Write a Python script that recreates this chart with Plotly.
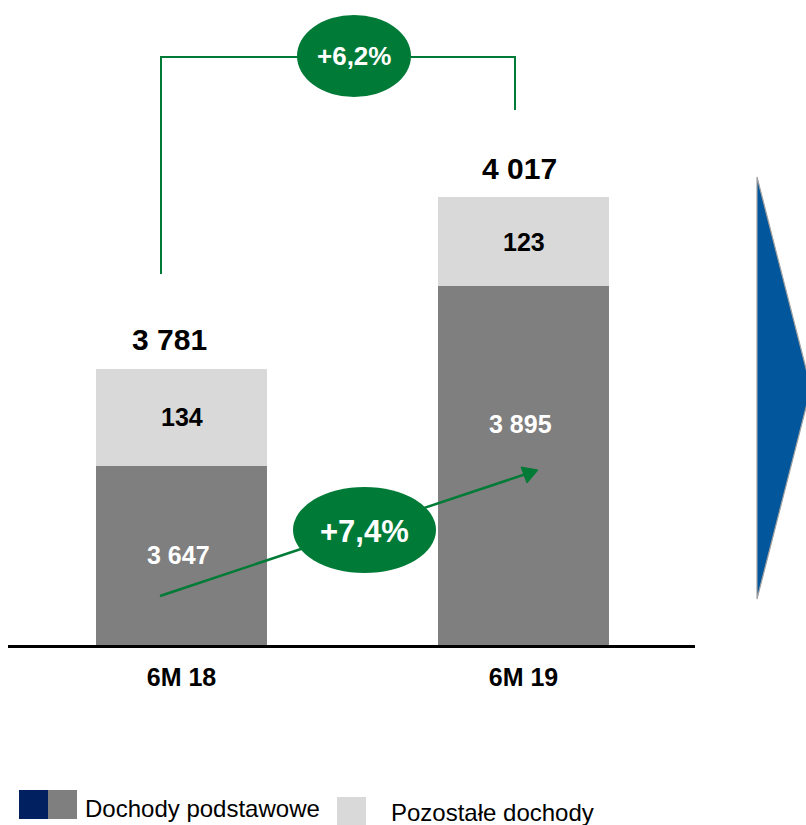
import plotly.graph_objects as go

# ---- data -------------------------------------------------------------
periods = ["6M 18", "6M 19"]
core_income = [3647, 3895]        # Dochody podstawowe
other_income = [134, 123]         # Pozostałe dochody
total_income = [3781, 4017]
growth_total = "+6,2%"
growth_core = "+7,4%"

# ---- styling ----------------------------------------------------------
W, H = 806, 825
FONT = "Liberation Sans, Arial, sans-serif"
DARK_GREY = "#7F7F7F"
LIGHT_GREY = "#D9D9D9"
NAVY = "#002060"
GREEN = "#007A37"
BLUE = "#02569B"

AXIS_FLOOR = 3400          # value axis is truncated at this level
PX_PER_UNIT = 0.725
BASE_PX = 645              # pixel row of the category axis


def px(x):
    return x / W


def py(y):
    return 1 - y / H


y_top = AXIS_FLOOR + BASE_PX / PX_PER_UNIT

fig = go.Figure()
fig.add_trace(go.Bar(x=[0, 1], y=core_income, width=0.5,
                     marker=dict(color=DARK_GREY, line=dict(width=0)),
                     name="Dochody podstawowe", hoverinfo="skip"))
fig.add_trace(go.Bar(x=[0, 1], y=other_income, width=0.5,
                     marker=dict(color=LIGHT_GREY, line=dict(width=0)),
                     name="Pozostałe dochody", hoverinfo="skip"))

annotations = []
# segment labels
core_shift = [0, 42]
core_xshift = [-3, -3]
for i in range(2):
    annotations.append(dict(
        x=i, y=(AXIS_FLOOR + core_income[i]) / 2, xref="x", yref="y",
        text=f"<b>{core_income[i]:,}</b>".replace(",", " "),
        showarrow=False, yshift=core_shift[i], xshift=core_xshift[i],
        xanchor="center", yanchor="middle",
        font=dict(family=FONT, size=25, color="white")))
    annotations.append(dict(
        x=i, y=core_income[i] + other_income[i] / 2, xref="x", yref="y",
        text=f"<b>{other_income[i]}</b>", showarrow=False,
        xanchor="center", yanchor="middle",
        font=dict(family=FONT, size=25, color="black")))
    annotations.append(dict(
        x=i, y=total_income[i], xref="x", yref="y",
        text=f"<b>{total_income[i]:,}</b>".replace(",", " "),
        showarrow=False, xanchor="center", yanchor="middle", yshift=29,
        xshift=[-12, -4][i],
        font=dict(family=FONT, size=30, color="black")))

# growth badges text
annotations.append(dict(x=px(354), y=py(56), xref="paper", yref="paper",
                        xanchor="center", yanchor="middle",
                        text=f"<b>{growth_total}</b>", showarrow=False,
                        font=dict(family=FONT, size=26, color="white")))
annotations.append(dict(x=px(364.5), y=py(531), xref="paper", yref="paper",
                        xanchor="center", yanchor="middle",
                        text=f"<b>{growth_core}</b>", showarrow=False,
                        font=dict(family=FONT, size=31, color="white")))

# legend
annotations.append(dict(x=px(83), y=py(808), xref="paper", yref="paper",
                        xanchor="left", yanchor="middle",
                        text="Dochody podstawowe", showarrow=False,
                        font=dict(family=FONT, size=24, color="black")))
annotations.append(dict(x=px(389), y=py(812), xref="paper", yref="paper",
                        xanchor="left", yanchor="middle",
                        text="Pozostałe dochody", showarrow=False,
                        font=dict(family=FONT, size=24, color="black")))

shapes = [
    # bracket over both bars
    dict(type="path", xref="paper", yref="paper",
         path=f"M {px(161)},{py(274)} L {px(161)},{py(57)} L {px(515)},{py(57)} L {px(515)},{py(110)}",
         line=dict(color=GREEN, width=2)),
    dict(type="circle", xref="paper", yref="paper",
         x0=px(297), x1=px(411), y0=py(97), y1=py(15),
         fillcolor=GREEN, line=dict(width=0)),
    # growth arrow for core income
    dict(type="line", xref="paper", yref="paper",
         x0=px(160), y0=py(596), x1=px(526), y1=py(474),
         line=dict(color=GREEN, width=2.5)),
    dict(type="path", xref="paper", yref="paper",
         path=f"M {px(538)},{py(470)} L {px(521)},{py(467)} L {px(527)},{py(483)} Z",
         fillcolor=GREEN, line=dict(color=GREEN, width=1)),
    dict(type="circle", xref="paper", yref="paper",
         x0=px(293), x1=px(436), y0=py(573), y1=py(487),
         fillcolor=GREEN, line=dict(width=0)),
    # chevron on the right
    dict(type="path", xref="paper", yref="paper",
         path=f"M {px(757)},{py(177)} L {px(811)},{py(388)} L {px(757)},{py(599)} Z",
         fillcolor=BLUE, line=dict(color="#A0A0A0", width=1.2)),
    # legend swatches
    dict(type="rect", xref="paper", yref="paper",
         x0=px(19), x1=px(48), y0=py(819), y1=py(790),
         fillcolor=NAVY, line=dict(width=0)),
    dict(type="rect", xref="paper", yref="paper",
         x0=px(48), x1=px(77), y0=py(819), y1=py(790),
         fillcolor=DARK_GREY, line=dict(width=0)),
    dict(type="rect", xref="paper", yref="paper",
         x0=px(337), x1=px(366), y0=py(825), y1=py(797),
         fillcolor=LIGHT_GREY, line=dict(width=0)),
]

x_left = (8 - 181.5) / 342
x_right = (695 - 181.5) / 342

fig.update_layout(
    width=W, height=H,
    margin=dict(l=0, r=0, t=0, b=0),
    paper_bgcolor="white", plot_bgcolor="white",
    barmode="stack", bargap=0, showlegend=False,
    annotations=annotations, shapes=shapes,
    xaxis=dict(domain=[px(8), px(695)], range=[x_left, x_right],
               tickvals=[0, 1], ticktext=[f"<b>{p}</b>" for p in periods],
               tickfont=dict(family=FONT, size=25, color="black"),
               showline=True, linecolor="black", linewidth=3,
               ticks="", ticklabelstandoff=8,
               showgrid=False, zeroline=False, fixedrange=True),
    yaxis=dict(domain=[1 - BASE_PX / H, 1], range=[AXIS_FLOOR, y_top],
               visible=False, showgrid=False, zeroline=False, fixedrange=True),
)

fig.write_html("out.html", config={"displayModeBar": False})
